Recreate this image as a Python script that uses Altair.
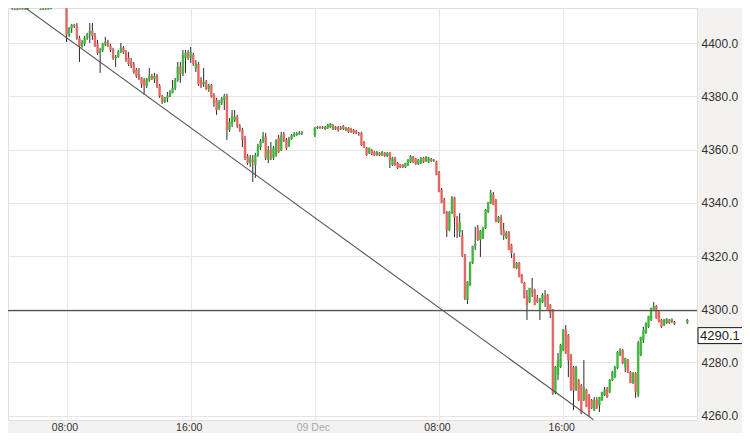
import altair as alt
import pandas as pd

# ---------------- data (10-minute candles, price) ----------------
# pre-market 08 Dec, starting 04:10 (None = no trade in that slot)
pre_open = [4413.9, None, 4413.9, 4412.8, 4412.6, 4413.0, 4412.8, 4413.0, 4412.8, None, None,
            4414.1, 4414.2, 4412.6, 4412.7, 4412.9, 4412.8, 4413.0, None, None, 4413.8, 4414.0, 4414.2]
pre_high = [4414.2, None, 4414.0, 4413.1, 4413.2, 4413.3, 4413.3, 4413.2, 4413.4, None, None,
            4414.4, 4414.4, 4413.0, 4413.2, 4413.2, 4413.4, 4413.3, None, None, 4414.3, 4414.4, 4414.8]
pre_low = [4413.7, None, 4412.6, 4412.5, 4412.5, 4412.7, 4412.7, 4412.6, 4412.7, None, None,
           4413.9, 4413.9, 4412.5, 4412.6, 4412.6, 4412.7, 4412.8, None, None, 4413.7, 4413.8, 4414.1]
pre_close = [4414.0, None, 4412.8, 4412.9, 4413.0, 4412.9, 4413.1, 4412.8, 4413.2, None, None,
             4414.2, 4414.0, 4412.9, 4413.0, 4412.8, 4413.2, 4413.1, None, None, 4414.1, 4414.2, 4414.6]

# session 08 Dec, starting 08:00
s1_open = [4414.0, 4403.1, 4405.8, 4406.9, 4406.5, 4402.0, 4399.0, 4399.8, 4402.0, 4403.5,
           4404.6, 4402.8, 4399.8, 4396.4, 4397.5, 4399.4, 4400.5, 4399.0, 4397.5, 4394.5,
           4394.9, 4396.7, 4398.3, 4396.7, 4394.5, 4393.0, 4392.2, 4390.0, 4388.5, 4387.0,
           4386.2, 4384.0, 4386.2, 4387.7, 4386.6, 4387.7, 4384.0, 4380.2, 4377.9, 4379.5,
           4380.2, 4381.3, 4383.2, 4386.2, 4391.1, 4388.5, 4394.5, 4396.4, 4394.5, 4395.6,
           4390.7, 4392.2, 4386.2, 4384.7, 4385.5, 4382.8, 4384.3, 4380.6, 4378.7, 4375.7,
           4377.6, 4378.7, 4380.2, 4367.4, 4369.7, 4371.2, 4372.3, 4368.9, 4367.4, 4364.4,
           4357.6, 4355.0, 4356.1, 4354.3, 4358.0, 4361.0, 4363.3, 4364.8, 4356.1, 4359.9,
           4356.9, 4358.0, 4364.4, 4359.9, 4365.9, 4363.7, 4361.4, 4364.0, 4365.2, 4365.5,
           4365.9, 4366.3]
s1_high = [4414.4, 4406.1, 4407.3, 4407.3, 4407.6, 4402.8, 4401.3, 4402.8, 4403.9, 4407.6,
           4407.6, 4403.9, 4401.3, 4398.3, 4400.1, 4402.4, 4401.3, 4399.8, 4398.3, 4395.6,
           4397.5, 4400.1, 4399.0, 4397.5, 4396.7, 4394.5, 4393.0, 4390.7, 4390.7, 4387.3,
           4387.0, 4387.0, 4390.7, 4388.5, 4388.9, 4388.5, 4384.7, 4380.6, 4379.8, 4381.7,
           4382.4, 4386.2, 4387.0, 4393.0, 4393.0, 4397.5, 4397.5, 4397.5, 4398.6, 4396.4,
           4393.7, 4393.0, 4387.3, 4390.7, 4386.2, 4384.7, 4384.7, 4381.3, 4379.5, 4378.7,
           4379.8, 4381.0, 4381.0, 4371.9, 4374.9, 4374.9, 4373.1, 4369.7, 4368.2, 4365.2,
           4358.4, 4358.0, 4358.0, 4358.8, 4362.2, 4364.0, 4366.7, 4366.3, 4361.4, 4362.9,
           4361.4, 4364.0, 4365.5, 4366.7, 4366.7, 4364.4, 4364.8, 4365.9, 4366.7, 4366.7,
           4367.0, 4367.0]
s1_low = [4400.5, 4402.4, 4403.9, 4405.8, 4401.3, 4393.0, 4398.3, 4399.0, 4401.3, 4400.1,
          4401.3, 4398.6, 4395.6, 4388.9, 4396.7, 4399.0, 4398.6, 4396.7, 4393.7, 4391.1,
          4394.5, 4396.4, 4396.0, 4393.0, 4391.5, 4390.7, 4388.5, 4387.0, 4386.2, 4383.2,
          4380.6, 4383.2, 4385.5, 4386.2, 4385.1, 4383.2, 4379.5, 4377.2, 4377.6, 4377.9,
          4379.8, 4381.3, 4382.4, 4385.5, 4385.1, 4387.7, 4388.9, 4393.7, 4392.6, 4391.5,
          4389.2, 4384.0, 4383.2, 4383.6, 4382.4, 4381.7, 4379.5, 4376.1, 4373.1, 4374.9,
          4376.8, 4374.9, 4363.7, 4366.7, 4368.5, 4370.4, 4368.2, 4366.7, 4361.0, 4356.1,
          4354.3, 4353.5, 4347.9, 4349.4, 4357.3, 4359.9, 4362.5, 4356.1, 4355.0, 4356.1,
          4356.1, 4357.3, 4358.8, 4359.5, 4362.9, 4359.9, 4361.0, 4363.7, 4364.8, 4365.2,
          4365.5, 4365.5]
s1_close = [4403.1, 4405.8, 4406.9, 4406.5, 4402.0, 4399.0, 4400.5, 4402.0, 4403.5, 4404.6,
            4402.8, 4399.0, 4396.4, 4397.5, 4399.8, 4400.5, 4399.0, 4397.5, 4394.5, 4394.9,
            4396.7, 4398.3, 4396.7, 4393.7, 4392.2, 4391.5, 4389.2, 4387.7, 4387.0, 4384.7,
            4384.0, 4386.6, 4387.7, 4386.6, 4387.7, 4384.0, 4380.2, 4377.9, 4379.5, 4380.2,
            4381.7, 4383.2, 4386.2, 4391.1, 4388.5, 4395.6, 4396.4, 4394.5, 4396.7, 4392.2,
            4392.2, 4384.7, 4384.0, 4385.5, 4382.8, 4384.0, 4379.8, 4377.6, 4374.9, 4377.9,
            4379.1, 4380.2, 4367.4, 4370.4, 4372.7, 4372.3, 4368.9, 4367.4, 4363.7, 4356.9,
            4355.0, 4356.9, 4355.4, 4358.0, 4361.4, 4363.3, 4365.2, 4356.9, 4359.9, 4356.9,
            4360.7, 4363.3, 4359.1, 4365.2, 4363.3, 4360.7, 4364.0, 4365.5, 4365.9, 4366.3,
            4366.3, 4366.6]

# session 09 Dec, starting 00:00
s2_open = [4365.5, 4368.2, 4368.5, 4368.5, 4367.8, 4368.2, 4368.5, 4369.3, 4367.8, 4368.5,
           4368.2, 4368.9, 4367.4, 4368.2, 4367.8, 4367.4, 4367.0, 4366.3, 4366.3, 4362.9,
           4360.7, 4358.8, 4359.9, 4359.1, 4358.0, 4358.8, 4358.0, 4358.8, 4357.6, 4358.8,
           4354.3, 4356.9, 4355.0, 4354.3, 4354.3, 4353.5, 4354.3, 4355.4, 4357.3, 4356.5,
           4354.6, 4355.0, 4356.9, 4355.8, 4355.4, 4356.5, 4355.8, 4355.4, 4351.6, 4344.9,
           4341.1, 4336.6, 4329.8, 4336.2, 4341.9, 4334.7, 4329.1, 4327.6, 4320.4, 4303.5,
           4309.1, 4317.4, 4323.8, 4330.6, 4326.1, 4326.8, 4330.6, 4336.6, 4340.0, 4343.0,
           4341.1, 4332.8, 4334.3, 4329.8, 4326.8, 4329.1, 4324.2, 4320.4, 4315.5, 4317.4,
           4312.9, 4309.9, 4305.0, 4302.7, 4307.3, 4307.3, 4304.2, 4299.7, 4302.7, 4305.0,
           4305.4, 4301.6, 4299.7, 4268.5, 4275.3, 4278.3, 4284.7, 4292.2, 4290.3, 4282.8,
           4278.3, 4269.7, 4273.4, 4271.5, 4265.9, 4269.7, 4267.8, 4265.9, 4262.1, 4265.9,
           4264.0, 4265.9, 4267.8, 4270.4, 4268.9, 4273.4, 4274.5, 4277.9, 4282.8, 4284.7,
           4278.3, 4280.9, 4276.4, 4272.3, 4276.0, 4267.8, 4282.8, 4288.5, 4291.1, 4293.4,
           4296.0, 4299.7, 4301.2, 4299.0, 4296.0, 4294.1, 4294.9, 4296.0, 4295.2, 4295.2,
           None, None, None, None, 4294.9]
s2_high = [4368.5, 4368.9, 4368.9, 4368.9, 4368.9, 4369.7, 4370.1, 4369.7, 4368.9, 4368.9,
           4368.9, 4369.3, 4368.5, 4368.5, 4368.2, 4367.8, 4367.4, 4366.7, 4366.7, 4363.3,
           4361.0, 4360.7, 4360.3, 4359.5, 4359.5, 4359.1, 4359.5, 4359.1, 4359.1, 4359.1,
           4357.3, 4357.3, 4355.4, 4354.6, 4354.6, 4355.0, 4356.5, 4358.0, 4357.6, 4356.9,
           4356.5, 4357.3, 4357.3, 4357.6, 4357.3, 4356.9, 4356.5, 4355.8, 4352.0, 4345.6,
           4341.9, 4337.0, 4336.9, 4342.6, 4342.3, 4335.1, 4336.2, 4329.8, 4320.8, 4310.6,
           4317.8, 4323.8, 4331.0, 4331.7, 4329.8, 4330.9, 4337.7, 4340.3, 4344.9, 4344.1,
           4341.5, 4335.1, 4335.5, 4332.5, 4329.4, 4329.4, 4324.6, 4321.2, 4317.8, 4317.8,
           4313.3, 4310.3, 4307.3, 4308.0, 4311.8, 4307.7, 4305.4, 4304.2, 4306.1, 4307.3,
           4305.8, 4302.0, 4300.1, 4278.7, 4283.6, 4287.0, 4292.6, 4294.1, 4290.7, 4283.2,
           4278.7, 4278.7, 4273.8, 4271.9, 4280.9, 4270.1, 4268.2, 4266.3, 4267.0, 4267.0,
           4267.0, 4268.9, 4270.8, 4270.8, 4273.8, 4276.8, 4278.7, 4284.3, 4285.4, 4285.1,
           4281.7, 4281.3, 4276.8, 4276.4, 4276.4, 4288.1, 4289.6, 4293.4, 4294.9, 4297.5,
           4300.5, 4302.7, 4301.6, 4299.4, 4296.4, 4296.4, 4296.7, 4296.4, 4296.4, 4295.6,
           None, None, None, None, 4296.4]
s2_low = [4364.8, 4367.8, 4367.8, 4367.8, 4367.4, 4367.8, 4368.2, 4367.4, 4367.4, 4366.7,
          4367.4, 4367.4, 4367.0, 4366.3, 4366.3, 4365.9, 4365.9, 4365.2, 4361.4, 4360.7,
          4357.6, 4358.4, 4358.0, 4357.6, 4357.6, 4357.6, 4357.6, 4357.3, 4357.3, 4353.1,
          4353.9, 4353.9, 4352.7, 4353.1, 4353.1, 4353.1, 4353.9, 4355.0, 4355.0, 4354.3,
          4354.3, 4354.6, 4355.0, 4355.4, 4355.0, 4355.4, 4355.4, 4350.5, 4344.1, 4340.0,
          4335.9, 4327.2, 4329.4, 4335.9, 4327.2, 4326.8, 4327.2, 4319.7, 4303.5, 4302.0,
          4308.7, 4317.0, 4322.3, 4325.7, 4319.7, 4326.4, 4330.2, 4336.2, 4339.6, 4339.2,
          4332.8, 4332.5, 4327.9, 4326.1, 4326.4, 4322.3, 4319.3, 4315.5, 4315.1, 4312.1,
          4309.9, 4304.2, 4296.0, 4302.4, 4304.6, 4301.6, 4302.4, 4296.0, 4302.4, 4300.9,
          4299.7, 4296.7, 4267.8, 4268.1, 4273.4, 4277.9, 4284.3, 4283.2, 4274.5, 4269.3,
          4262.1, 4269.3, 4265.5, 4260.6, 4265.5, 4263.3, 4259.5, 4262.5, 4261.7, 4262.5,
          4261.4, 4265.5, 4267.4, 4266.7, 4268.5, 4273.0, 4274.1, 4277.5, 4282.4, 4279.4,
          4276.4, 4276.0, 4272.3, 4271.9, 4266.7, 4267.0, 4282.4, 4287.3, 4290.7, 4293.0,
          4295.6, 4299.3, 4296.4, 4295.2, 4293.0, 4293.7, 4294.5, 4294.5, 4294.9, 4294.1,
          None, None, None, None, 4294.5]
s2_close = [4368.2, 4368.5, 4368.2, 4368.2, 4368.5, 4369.3, 4369.7, 4367.8, 4368.5, 4367.4,
            4367.8, 4367.8, 4368.2, 4366.7, 4366.7, 4366.3, 4366.3, 4365.9, 4361.8, 4361.0,
            4358.0, 4360.7, 4358.4, 4358.0, 4359.1, 4358.0, 4359.1, 4357.6, 4358.8, 4356.1,
            4356.9, 4354.3, 4353.1, 4353.5, 4353.5, 4355.0, 4356.1, 4357.6, 4355.4, 4354.6,
            4356.1, 4356.9, 4355.4, 4357.3, 4356.9, 4355.8, 4356.1, 4350.5, 4344.1, 4340.0,
            4336.2, 4329.8, 4336.6, 4341.9, 4334.7, 4329.8, 4332.5, 4320.4, 4304.2, 4310.3,
            4317.8, 4323.8, 4324.6, 4326.1, 4329.4, 4330.6, 4337.3, 4340.3, 4343.7, 4339.2,
            4332.8, 4334.7, 4329.8, 4327.6, 4328.7, 4322.3, 4321.2, 4315.5, 4317.4, 4312.1,
            4309.9, 4304.2, 4301.6, 4308.0, 4306.5, 4301.6, 4302.7, 4303.5, 4305.4, 4303.5,
            4299.7, 4298.6, 4268.5, 4278.3, 4280.9, 4286.6, 4292.2, 4283.6, 4280.9, 4269.7,
            4269.7, 4278.3, 4265.9, 4261.0, 4270.8, 4263.3, 4261.0, 4262.9, 4265.9, 4262.9,
            4267.0, 4268.9, 4269.7, 4267.0, 4273.4, 4276.4, 4278.3, 4283.9, 4284.7, 4279.8,
            4281.7, 4276.4, 4272.3, 4276.0, 4268.9, 4287.3, 4289.6, 4292.2, 4294.9, 4297.5,
            4300.5, 4301.2, 4296.7, 4295.2, 4293.4, 4296.0, 4296.4, 4294.9, 4296.4, 4294.5,
            None, None, None, None, 4296.0]

session_starts = ["2020-12-08 04:10", "2020-12-08 08:00", "2020-12-09 00:00"]

# annotations
hline_level = [4299.5]
trend_times = ["2020-12-08 04:33", "2020-12-09 17:57"]
trend_prices = [4416.7, 4258.5]
last_price = [4290.1]
tick_hours = [8, 16, 24, 32, 40]
price_ticks = [4260, 4280, 4300, 4320, 4340, 4360, 4380, 4400]

# ---------------- build table ----------------
origin = pd.Timestamp("2020-12-08 00:00")


def session(start, o, h, l, c):
    t = pd.date_range(start, periods=len(o), freq="10min")
    d = pd.DataFrame({"t": t, "open": o, "high": h, "low": l, "close": c}).dropna()
    d["hr"] = (d["t"] - origin).dt.total_seconds() / 3600.0
    return d.drop(columns="t")


df = pd.concat([
    session(session_starts[0], pre_open, pre_high, pre_low, pre_close),
    session(session_starts[1], s1_open, s1_high, s1_low, s1_close),
    session(session_starts[2], s2_open, s2_high, s2_low, s2_close),
], ignore_index=True)

trend = pd.DataFrame({
    "hr": (pd.to_datetime(trend_times) - origin).total_seconds() / 3600.0,
    "price": trend_prices,
})
hline = pd.DataFrame({"price": hline_level})
lastp = pd.DataFrame({"price": last_price, "label": [f"{p:.1f}" for p in last_price]})
lastp["top"] = lastp["price"] + 3.0
lastp["bot"] = lastp["price"] - 3.0

# ---------------- chart ----------------
W, H = 689, 412
PAD_R, PAD_B = 45, 13
xs = alt.Scale(domain=[4.552, 48.30], nice=False, zero=False)
ys = alt.Scale(domain=[4258.38, 4413.27], nice=False, zero=False)

GREEN = "#3fb63c"
RED = "#e6675e"
FONT = "Liberation Sans"

x_axis = alt.Axis(
    values=tick_hours, title=None, grid=True, gridColor="#e6e6e6", ticks=False,
    domain=False, labelFontSize=10.5, labelFont=FONT, labelPadding=2, labelOffset=-2,
    labelExpr="datum.value == 24 ? '09 Dec' : ((datum.value % 24) < 10 ? '0' : '') + (datum.value % 24) + ':00'",
    labelColor={"condition": {"test": "datum.value == 24", "value": "#aaaaaa"}, "value": "#333333"},
)
y_axis = alt.Axis(
    orient="right", values=price_ticks, format=".1f", title=None, grid=True,
    gridColor="#e6e6e6", ticks=False, domain=False, labelFontSize=12, labelFont=FONT,
    labelColor="#333333", labelPadding=4,
)

X = lambda f: alt.X(f, scale=xs, axis=x_axis)
Y = lambda f: alt.Y(f, scale=ys, axis=y_axis)

base = alt.Chart(df)

wicks = base.mark_rule(color="#2a2a2a", strokeWidth=1, clip=True).encode(
    x=X("hr:Q"), y=Y("low:Q"), y2="high:Q",
)

up = "datum.close >= datum.open"
bodies = base.mark_bar(size=1.8, strokeWidth=0.5, clip=True).encode(
    x=X("hr:Q"), y=Y("open:Q"), y2="close:Q",
    color=alt.condition(up, alt.value(GREEN), alt.value(RED)),
    stroke=alt.condition(up, alt.value(GREEN), alt.value(RED)),
)

trend_line = alt.Chart(trend).mark_line(color="#555555", strokeWidth=1.1, clip=True).encode(
    x=X("hr:Q"), y=Y("price:Q"),
)

h_rule = alt.Chart(hline).mark_rule(color="#555555", strokeWidth=1.1).encode(
    y=Y("price:Q"), x=alt.value(0), x2=alt.value(W),
)

box = alt.Chart(lastp).mark_rect(fill="white", stroke="#111111", strokeWidth=1).encode(
    y=Y("top:Q"), y2="bot:Q", x=alt.value(W + 1), x2=alt.value(W + 60),
)

box_text = alt.Chart(lastp).mark_text(
    align="left", baseline="middle", fontSize=13, font=FONT, color="#222222"
).encode(
    y=Y("price:Q"), x=alt.value(W + 3), text="label:N",
)

chart = alt.layer(wicks, bodies, trend_line, h_rule, box, box_text).properties(
    width=W, height=H,
    autosize=alt.AutoSizeParams(type="none"),
    padding={"left": 0, "top": 0, "right": PAD_R, "bottom": PAD_B},
    background="#f3f2f0",
).configure_view(fill="white", stroke="#e0e0e0", strokeWidth=1)

chart.save("out.html", embed_options={"renderer": "svg", "actions": False})
